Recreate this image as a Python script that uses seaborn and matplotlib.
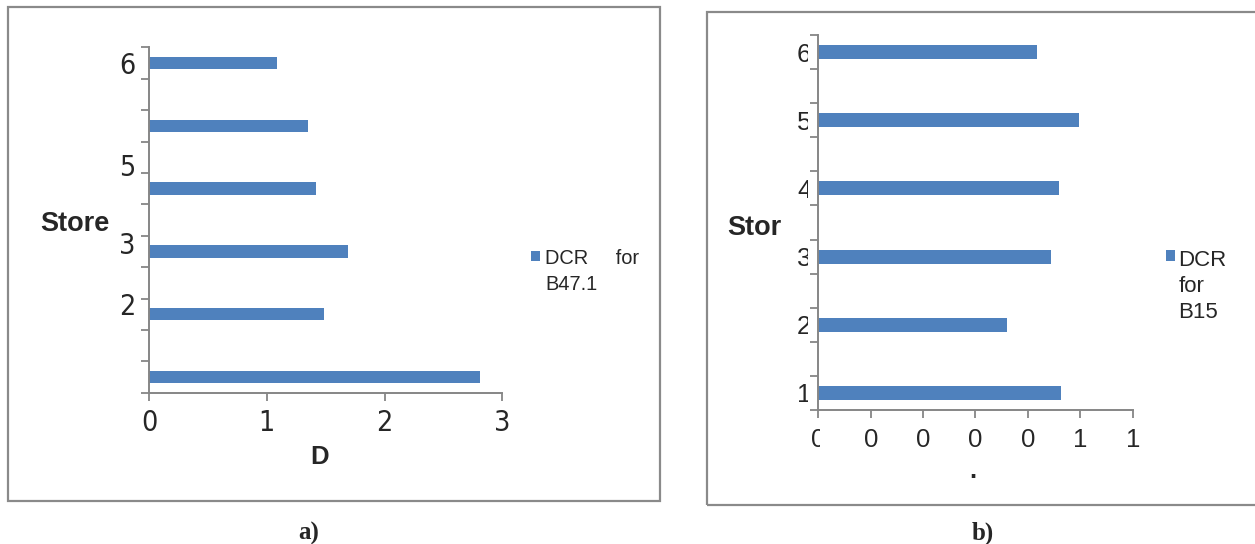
import os
import numpy as np
import pandas as pd
import matplotlib
matplotlib.use("Agg")
import matplotlib.pyplot as plt
import seaborn as sns
from matplotlib import font_manager
from matplotlib.font_manager import FontProperties
from matplotlib.patches import Rectangle
from matplotlib.ticker import FixedLocator, FuncFormatter
from matplotlib.transforms import Bbox

# data (store 1 at the bottom)
stores = ['1', '2', '3', '4', '5', '6']
d_b47 = [2.81, 1.49, 1.69, 1.42, 1.35, 1.09]
d_b15 = [0.925, 0.72, 0.887, 0.918, 0.994, 0.834]
left_store_labels = ['6', '5', '3', '2']
series_a = 'DCR     for\nB47.1'
series_b = 'DCR\nfor\nB15'

BAR = '#4F81BD'
AXIS = '#868686'
W, H = 1255, 544
SANS = ['Liberation Sans', 'DejaVu Sans']
SERIF = ['Liberation Serif', 'DejaVu Serif']

sns.set_style('white')
plt.rcParams['font.family'] = SANS


def narrow_font():
    # left panel digits are set in a condensed face, use one if installed
    skip = ('bold', 'italic', 'oblique', 'light', 'semi', 'medium', 'thin',
            'black', 'extra', 'mono')
    found = []
    for f in font_manager.fontManager.ttflist:
        base = os.path.basename(f.fname).lower()
        if ('narrow' in base or 'condensed' in base) and not any(s in base for s in skip):
            found.append(f.fname)
    found.sort(key=lambda p: 0 if 'liberation' in p.lower() else 1)
    return found[0] if found else None


NARROW_FILE = narrow_font()


def fx(px):
    return px / W


def fy(py):
    return 1 - py / H


fig = plt.figure(figsize=(W / 100, H / 100), dpi=100)

# panel frames
for x0, y0, x1, y1 in [(8, 7, 660, 500.7), (706.7, 12.3, 1262, 505.3)]:
    fig.patches.append(Rectangle((fx(x0), fy(y1)), (x1 - x0) / W, (y1 - y0) / H,
                                 transform=fig.transFigure, fill=False,
                                 ec='#8a8a8a', lw=1.6))

ax_a = fig.add_axes([fx(149), fy(392.7), (502.3 - 149) / W, (392.7 - 47.3) / H])
ax_b = fig.add_axes([fx(818.3), fy(410), (1132.7 - 818.3) / W, (410 - 35) / H])

order = stores[::-1]
df_a = pd.DataFrame({'Store': stores, 'D': d_b47})
df_b = pd.DataFrame({'Store': stores, 'D': d_b15})

sns.barplot(data=df_a, x='D', y='Store', order=order, orient='h', width=0.2,
            color=BAR, saturation=1, linewidth=0, label=series_a, ax=ax_a)
sns.barplot(data=df_b, x='D', y='Store', order=order, orient='h', width=0.205,
            color=BAR, saturation=1, linewidth=0, label=series_b, ax=ax_b)

for ax in (ax_a, ax_b):
    sns.despine(ax=ax)
    for s in ('left', 'bottom'):
        ax.spines[s].set_color(AXIS)
        ax.spines[s].set_linewidth(1.4)
    ax.set_ylim(5.25, -0.25)
    ax.yaxis.set_minor_locator(FixedLocator(np.arange(-0.25, 5.3, 0.5)))
    ax.tick_params(axis='y', which='minor', left=True, length=6, width=1.3,
                   color=AXIS, direction='out')
    ax.tick_params(axis='x', which='major', bottom=True, length=6, width=1.3,
                   color=AXIS, direction='out')

# left panel
ax_a.set_xlim(0, 3)
ax_a.set_xticks([0, 1, 2, 3])
ax_a.set_yticks([0.0, 1.62, 2.87, 3.83], labels=left_store_labels)
ax_a.tick_params(axis='y', which='major', left=False, length=0, pad=10)
ax_a.tick_params(axis='x', pad=5.5)
for t in ax_a.get_xticklabels() + ax_a.get_yticklabels():
    if NARROW_FILE:
        t.set_fontproperties(FontProperties(fname=NARROW_FILE, size=20.5))
    else:
        t.set_fontfamily(SANS)
        t.set_fontsize(19)
ax_a.set_xlabel('D', fontsize=18.5, fontweight='bold')
ax_a.xaxis.set_label_coords(0.484, -0.151)
ax_a.set_ylabel('Store', fontsize=19.5, fontweight='bold', rotation=0,
                ha='center', va='center')
ax_a.yaxis.set_label_coords(-0.2095, 0.488)

# right panel
ax_b.set_xlim(0, 1.2)
ax_b.xaxis.set_major_locator(FixedLocator(np.arange(0, 1.21, 0.2)))
ax_b.xaxis.set_major_formatter(FuncFormatter(lambda v, p: f'{v:.1f}'[0]))
ax_b.tick_params(axis='y', which='major', left=False, length=0, pad=5)
ax_b.tick_params(axis='x', pad=7)
for t in ax_b.get_xticklabels() + ax_b.get_yticklabels():
    t.set_fontfamily(SANS)
    t.set_fontsize(18.6)
ax_b.set_xlabel('.', fontsize=18, fontweight='bold')
ax_b.xaxis.set_label_coords(0.492, -0.131)
ax_b.set_ylabel('Stor', fontsize=19.5, fontweight='bold', rotation=0,
                ha='center', va='center')
ax_b.yaxis.set_label_coords(-0.203, 0.486)

# labels cut off as in the source
for t in ax_b.get_yticklabels():
    t.set_clip_box(Bbox([[0, 0], [807.5, H]]))
    t.set_clip_on(True)
first = ax_b.get_xticklabels()[0]
first.set_clip_box(Bbox([[0, 0], [820, H]]))
first.set_clip_on(True)

# legends: marker sits beside the first text line
leg_a = ax_a.legend(loc='upper left', bbox_to_anchor=(fx(530.5), fy(249)),
                    bbox_transform=fig.transFigure, frameon=False, fontsize=14.4,
                    handlelength=0.45, handleheight=0.45, handletextpad=0.28,
                    borderpad=0, borderaxespad=0)
leg_a.get_texts()[0].set_linespacing(1.45)
h = leg_a.legend_handles[0]
h.set_y(h.get_y() + 11.4)

leg_b = ax_b.legend(loc='upper left', bbox_to_anchor=(fx(1165.5), fy(250)),
                    bbox_transform=fig.transFigure, frameon=False, fontsize=16,
                    handlelength=0.42, handleheight=0.42, handletextpad=0.15,
                    borderpad=0, borderaxespad=0)
leg_b.get_texts()[0].set_linespacing(1.32)
h = leg_b.legend_handles[0]
h.set_y(h.get_y() + 22.5)

fig.text(fx(309), fy(533), 'a)', family=SERIF, fontweight='bold', fontsize=18,
         ha='center', va='center')
fig.text(fx(983), fy(533), 'b)', family=SERIF, fontweight='bold', fontsize=18,
         ha='center', va='center')

fig.savefig('out.png', dpi=100, facecolor='white')
